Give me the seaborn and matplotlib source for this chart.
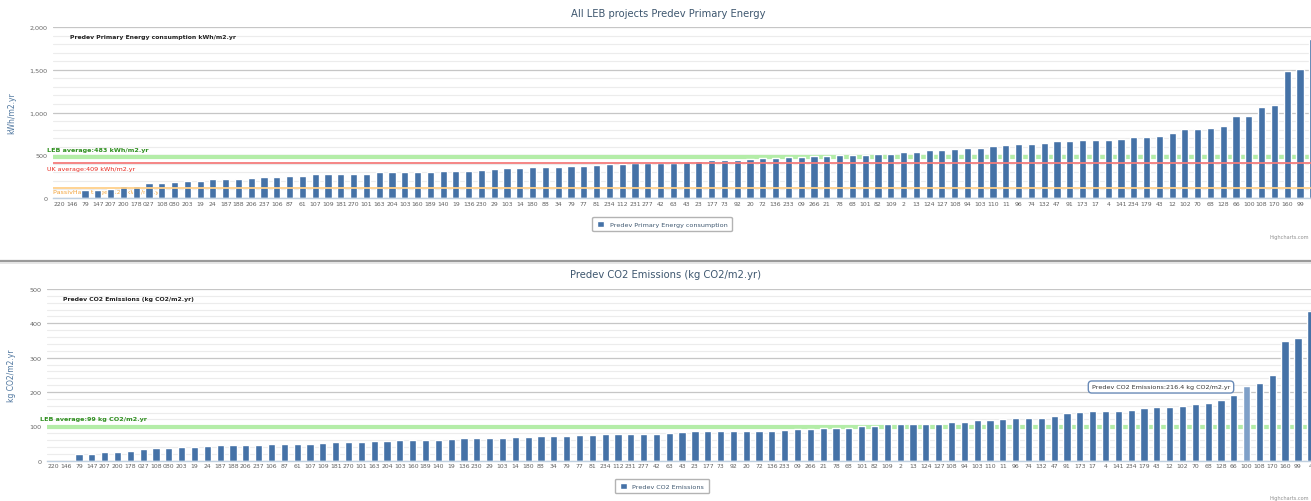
import seaborn as sns
import matplotlib.pyplot as plt
from matplotlib.ticker import MultipleLocator, FuncFormatter
from matplotlib.lines import Line2D

# project ids in chart order (sorted by primary energy)
project_ids = [
    '220', '146', '79', '147', '207', '200', '178', '027', '108', '080', '203', '19', '24', '187', '188',
    '206', '237', '106', '87', '61', '107', '109', '181', '270', '101', '163', '204', '103', '160', '189',
    '140', '19', '136', '230', '29', '103', '14', '180', '88', '34', '79', '77', '81', '234', '112',
    '231', '277', '42', '63', '43', '23', '177', '73', '92', '20', '72', '136', '233', '09', '266',
    '21', '78', '68', '101', '82', '109', '2', '13', '124', '127', '108', '94', '103', '110', '11',
    '96', '74', '132', '47', '91', '173', '17', '4', '141', '234', '179', '43', '12', '102', '70',
    '68', '128', '66', '100', '108', '170', '160', '99', '4',
]

# Predev primary energy, kWh/m2.yr
energy = [
    0, 0, 97, 97, 105, 136, 136, 172, 180, 187, 199, 203, 222, 222, 222, 238, 246, 246, 257, 261,
    281, 281, 285, 285, 285, 300, 304, 304, 304, 308, 310, 320, 320, 328, 339, 347, 347, 363, 363, 363,
    371, 374, 386, 394, 394, 406, 406, 406, 413, 421, 433, 441, 448, 448, 460, 464, 464, 476, 476, 488,
    495, 499, 499, 499, 510, 515, 534, 534, 566, 566, 573, 581, 589, 604, 620, 628, 628, 640, 667, 667,
    682, 682, 682, 690, 710, 710, 725, 764, 811, 811, 819, 838, 963, 963, 1065, 1088, 1482, 1509, 1860,
]

# Predev CO2 emissions, kg CO2/m2.yr
co2 = [
    0, 0, 19.5, 19.5, 24.3, 24.3, 29.1, 34.0, 36.0, 36.0, 40.0, 40.8, 42.8, 44.7, 44.7, 44.7, 45.7, 48.6,
    48.6, 49.5, 49.5, 52.4, 54.4, 54.4, 55.3, 58.2, 58.2, 60.3, 61.1, 61.1, 61.1, 64.0, 65.1, 65.1, 67.1,
    67.1, 70.0, 70.0, 70.9, 70.9, 72.8, 74.8, 74.8, 76.7, 76.7, 77.7, 77.7, 77.7, 80.6, 82.6, 85.5, 87.4,
    87.4, 87.4, 87.4, 87.4, 87.4, 90.3, 92.3, 92.3, 96.1, 96.1, 96.1, 100.0, 102.0, 106.8, 106.8, 106.8,
    107.8, 107.8, 113.6, 113.6, 118.5, 118.5, 121.4, 123.3, 123.3, 124.3, 131.0, 138.9, 142.7, 144.7,
    145.6, 145.6, 148.5, 153.4, 155.4, 155.4, 160.2, 166.0, 168.9, 175.7, 191.3, 216.4, 227.0, 249.5,
    347.6, 357.2, 436.7,
]

leb_energy_avg = 483
uk_energy_avg = 409
passivhaus_target = 120
leb_co2_avg = 99
hover_index = 93

W, H = 1311, 502
BAR = '#4572A7'

sns.set_theme(style='white')
plt.rcParams['font.family'] = ['DejaVu Sans']

fig = plt.figure(figsize=(W / 100, H / 100), dpi=100)


def px_axes(left, top, right, bottom):
    return fig.add_axes([left / W, 1 - bottom / H, (right - left) / W, (bottom - top) / H])


def style_axes(ax, ymax, major, minor, xright):
    positions = list(range(len(project_ids)))
    ax.set_xticks(positions)
    ax.set_xticklabels(project_ids, fontsize=4.4, color='#606060')
    ax.tick_params(axis='x', length=0, pad=2)
    ax.set_xlim(-0.5, xright)
    ax.set_ylim(0, ymax)
    ax.yaxis.set_major_locator(MultipleLocator(major))
    ax.yaxis.set_minor_locator(MultipleLocator(minor))
    ax.yaxis.set_major_formatter(FuncFormatter(lambda v, _: f'{v:,.0f}'))
    ax.tick_params(axis='y', which='both', length=0, pad=4, labelsize=4.6, labelcolor='#666666')
    ax.grid(which='major', axis='y', color='#C6C6C6', lw=0.9)
    ax.grid(which='minor', axis='y', color='#ECECEC', lw=0.8)
    ax.set_axisbelow(True)
    for s in ['top', 'left', 'right']:
        ax.spines[s].set_visible(False)
    ax.spines['bottom'].set_color('#C0D0E0')
    ax.spines['bottom'].set_linewidth(1)
    ax.set_xlabel('')


# ---- top panel: primary energy ----
ax1 = px_axes(53, 28, 1311, 199)
sns.barplot(x=list(range(len(energy))), y=energy, color=BAR, saturation=1, width=0.56,
            ax=ax1, label='Predev Primary Energy consumption', zorder=2)
style_axes(ax1, 2000, 500, 100, 97.86)
ax1.set_ylabel('kWh/m2.yr', fontsize=5.5, color='#4D759E')
ax1.yaxis.set_label_coords((16 - 53) / 1258, 0.5)

ax1.axhline(leb_energy_avg, color='#B4EDA8', lw=3, zorder=1.5)
ax1.axhline(uk_energy_avg, color='#F47C7C', lw=1.3, zorder=3)
ax1.axhline(passivhaus_target, color='#FFD08A', lw=1.3, zorder=3)

fig.text(47 / W, 1 - 150.5 / H, f'LEB average:{leb_energy_avg} kWh/m2.yr', fontsize=4.6,
         color='#2F8F1F', fontweight='bold', va='center', zorder=1)
fig.text(47 / W, 1 - 169.5 / H, f'UK average:{uk_energy_avg} kWh/m2.yr', fontsize=4.6,
         color='#E8281E', va='center', zorder=1)
ax1.text(-0.5, passivhaus_target - 48, f'PassivHaus target:{passivhaus_target} kWh/m2.yr',
         fontsize=4.6, color='#F2A33A', va='center', ha='left', zorder=1,
         transform=ax1.transData, clip_on=False)
fig.text(70 / W, 1 - 37.5 / H, 'Predev Primary Energy consumption kWh/m2.yr', fontsize=4.4,
         color='#222222', fontweight='bold', va='center')
fig.text(668 / W, 1 - 14 / H, 'All LEB projects Predev Primary Energy', fontsize=7.2,
         color='#3E576F', ha='center', va='center')
ax1.legend(loc='center', bbox_to_anchor=(662 / W, 1 - 225 / H), bbox_transform=fig.transFigure,
           fontsize=4.6, frameon=True, fancybox=True, edgecolor='#A0A0A0', handlelength=1.2,
           handleheight=1.0, borderpad=0.7, labelcolor='#3E576F')
fig.text(1309 / W, 1 - 237 / H, 'Highcharts.com', fontsize=3.6, color='#909090', ha='right', va='center')

# separator between the two charts
fig.add_artist(Line2D([0, 1], [1 - 262 / H, 1 - 262 / H], color='#9A9A9A', lw=1.6,
                      transform=fig.transFigure))
fig.add_artist(Line2D([0, 1], [1 - 264 / H, 1 - 264 / H], color='#E2E2E2', lw=1.2,
                      transform=fig.transFigure))

# ---- bottom panel: CO2 ----
ax2 = px_axes(47, 290, 1311, 461.7)
sns.barplot(x=list(range(len(co2))), y=co2, color=BAR, saturation=1, width=0.56,
            ax=ax2, label='Predev CO2 Emissions', zorder=2)
ax2.patches[hover_index].set_facecolor('#7FA0C8')
style_axes(ax2, 500, 100, 20, 98.02)
ax2.set_ylabel('kg CO2/m2.yr', fontsize=5.5, color='#4D759E')
ax2.yaxis.set_label_coords((16 - 47) / 1264, 0.5)

ax2.axhline(leb_co2_avg, color='#B4EDA8', lw=3, zorder=1.5)
fig.text(40.5 / W, 1 - 420 / H, f'LEB average:{leb_co2_avg} kg CO2/m2.yr', fontsize=4.6,
         color='#2F8F1F', fontweight='bold', va='center')
fig.text(63 / W, 1 - 300 / H, 'Predev CO2 Emissions (kg CO2/m2.yr)', fontsize=4.4,
         color='#222222', fontweight='bold', va='center')
fig.text(665 / W, 1 - 275 / H, 'Predev CO2 Emissions (kg CO2/m2.yr)', fontsize=7.2,
         color='#3E576F', ha='center', va='center')
ax2.legend(loc='center', bbox_to_anchor=(662 / W, 1 - 487 / H), bbox_transform=fig.transFigure,
           fontsize=4.6, frameon=True, fancybox=True, edgecolor='#A0A0A0', handlelength=1.2,
           handleheight=1.0, borderpad=0.7, labelcolor='#3E576F')
fig.text(1309 / W, 1 - 499 / H, 'Highcharts.com', fontsize=3.6, color='#909090', ha='right', va='center')

# hover tooltip
fig.text(1161 / W, 1 - 388 / H, f'Predev CO2 Emissions:{co2[hover_index]} kg CO2/m2.yr',
         fontsize=4.6, color='#333333', ha='center', va='center', zorder=10,
         bbox=dict(boxstyle='round,pad=0.55', fc='white', ec='#6A8BB8', lw=1.0))

fig.savefig('out.png', dpi=100)
